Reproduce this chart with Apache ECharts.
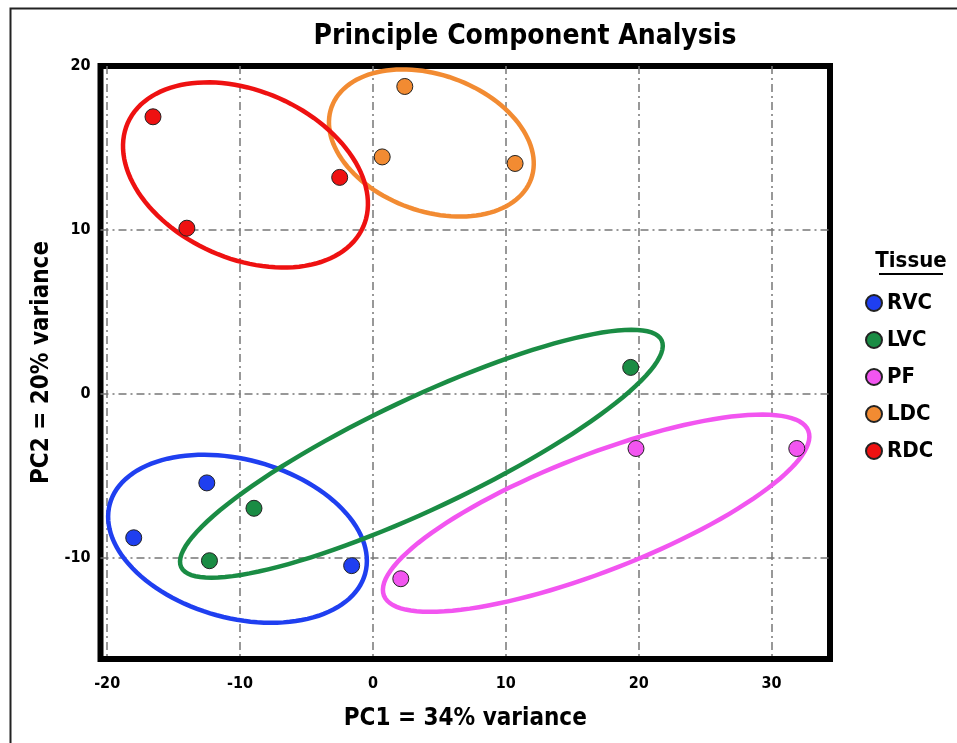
<!DOCTYPE html>
<html><head><meta charset="utf-8">
<script src="https://cdn.jsdelivr.net/npm/echarts@6/dist/echarts.min.js"></script>
<style>html,body{margin:0;padding:0;background:#fff}#c{width:957px;height:743px}</style>
</head><body><div id="c"></div>
<script>
// ---- data ----
const tissues = ['RVC', 'LVC', 'PF', 'LDC', 'RDC'];
const tissueColors = ['#1f3ff0', '#1a8c44', '#f255f0', '#f28b32', '#ee1111'];
const pointsRVC = [[-18.0, -8.8], [-12.5, -5.45], [-1.6, -10.5]];
const pointsLVC = [[-8.95, -7.0], [-12.3, -10.2], [19.4, 1.6]];
const pointsPF  = [[2.1, -11.3], [19.8, -3.35], [31.9, -3.35]];
const pointsLDC = [[2.4, 18.75], [0.7, 14.45], [10.7, 14.05]];
const pointsRDC = [[-16.55, 16.9], [-14.0, 10.1], [-2.5, 13.2]];
// confidence ellipses: [centerX, centerY, axis1X, axis1Y, axis2X, axis2Y] in data units
const ellipseRVC = [-10.19, -8.86, 9.61, -2.12, -1.56, -4.67];
const ellipseLVC = [3.65, -3.67, 18.08, 6.92, 1.77, -3.06];
const ellipsePF  = [16.80, -7.30, 15.97, 5.03, 1.58, -3.31];
const ellipseLDC = [4.40, 15.30, 7.51, -2.19, -1.73, -3.92];
const ellipseRDC = [-9.59, 13.35, 8.86, -3.17, -2.54, -4.68];
const xRange = [-20.5, 34.4];
const yRange = [-16.2, 20];
const titleText = 'Principle Component Analysis';
const xName = 'PC1 = 34% variance';
const yName = 'PC2 = 20% variance';
const legendTitle = 'Tissue';

const allPoints = [pointsRVC, pointsLVC, pointsPF, pointsLDC, pointsRDC];
const allEllipses = [ellipseRVC, ellipseLVC, ellipsePF, ellipseLDC, ellipseRDC];

const FONT = "'Liberation Sans Narrow', 'DejaVu Sans Condensed', 'Roboto Condensed', sans-serif";

function ellipseRender(params, api) {
  const cx = api.value(0), cy = api.value(1);
  const ux = api.value(2), uy = api.value(3);
  const vx = api.value(4), vy = api.value(5);
  const pts = [];
  const N = 120;
  for (let i = 0; i <= N; i++) {
    const t = 2 * Math.PI * i / N;
    pts.push(api.coord([cx + ux * Math.cos(t) + vx * Math.sin(t),
                        cy + uy * Math.cos(t) + vy * Math.sin(t)]));
  }
  return {
    type: 'polygon',
    shape: { points: pts },
    style: { fill: 'none', stroke: api.visual('color'), lineWidth: 4.5 }
  };
}

const series = [];
tissues.forEach((name, i) => {
  series.push({
    name: name + ' ellipse',
    type: 'custom',
    renderItem: ellipseRender,
    data: [allEllipses[i]],
    itemStyle: { color: tissueColors[i] },
    silent: true,
    z: 2 + i * 0.01
  });
});
tissues.forEach((name, i) => {
  series.push({
    name: name,
    type: 'scatter',
    data: allPoints[i],
    symbolSize: 16,
    itemStyle: { color: tissueColors[i], borderColor: '#222', borderWidth: 1, opacity: 1 },
    z: 5
  });
});

const gridLine = { show: true, showMinLine: false, showMaxLine: false,
  lineStyle: { color: '#777', width: 1.5, type: [8, 4, 2, 4] } };

const chart = echarts.init(document.getElementById('c'), null, { renderer: 'canvas' });
chart.setOption({
  animation: false,
  backgroundColor: '#fff',
  title: {
    text: titleText,
    left: 520, top: 18, textAlign: 'center',
    textStyle: { fontFamily: FONT, fontWeight: 'bold', fontSize: 28, color: '#000' }
  },
  legend: {
    data: tissues,
    orient: 'vertical',
    left: 860, top: 287,
    itemWidth: 16, itemHeight: 16, itemGap: 15,
    icon: 'circle',
    textStyle: { fontFamily: FONT, fontWeight: 'bold', fontSize: 22, color: '#000' }
  },
  grid: {
    left: 100.5, right: 127, top: 66, bottom: 84,
    show: true, borderColor: '#000', borderWidth: 6, backgroundColor: 'transparent'
  },
  xAxis: {
    type: 'value', min: xRange[0], max: xRange[1],
    minInterval: 10, maxInterval: 10,
    name: xName, nameLocation: 'middle', nameGap: 48,
    nameTextStyle: { fontFamily: FONT, fontWeight: 'bold', fontSize: 24, color: '#000' },
    axisLine: { show: false }, axisTick: { show: false },
    axisLabel: { showMinLabel: false, showMaxLabel: false, margin: 17,
      fontFamily: FONT, fontWeight: 'bold', fontSize: 16, color: '#000' },
    splitLine: gridLine
  },
  yAxis: {
    type: 'value', min: yRange[0], max: yRange[1],
    minInterval: 10, maxInterval: 10,
    name: yName, nameLocation: 'middle', nameGap: 46, nameRotate: 90,
    nameTextStyle: { fontFamily: FONT, fontWeight: 'bold', fontSize: 24, color: '#000' },
    axisLine: { show: false }, axisTick: { show: false },
    axisLabel: { showMinLabel: false, margin: 10,
      fontFamily: FONT, fontWeight: 'bold', fontSize: 16, color: '#000' },
    splitLine: gridLine
  },
  graphic: [
    { type: 'rect', left: 8, top: 6, shape: { width: 1200, height: 1000 },
      style: { fill: 'none', stroke: '#222', lineWidth: 2 }, silent: true, z: -1 },
    { type: 'text', x: 911, y: 261,
      style: { text: legendTitle, fill: '#000', font: "bold 22px " + FONT, align: 'center', verticalAlign: 'middle' } },
    { type: 'line', shape: { x1: 879, y1: 274, x2: 943, y2: 274 },
      style: { stroke: '#000', lineWidth: 2 } }
  ],
  series: series
});
</script>
</body></html>
